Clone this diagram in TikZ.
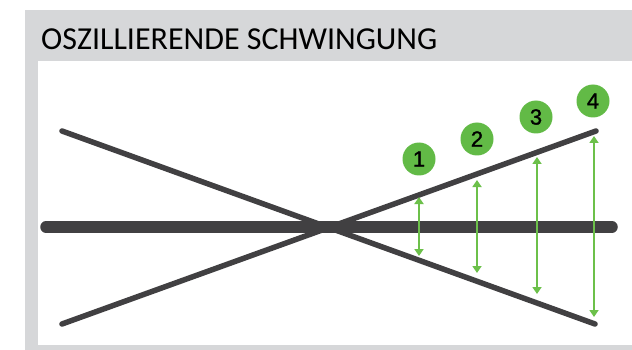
\documentclass[tikz,border=0pt]{standalone}
\usepackage{fontspec}
\setmainfont{Carlito}
\newfontface\numfont[FakeBold=1.2]{Liberation Sans}
\usetikzlibrary{arrows.meta}
\definecolor{framegray}{HTML}{D6D7D9}
\definecolor{linegray}{HTML}{414042}
\definecolor{arrowgreen}{HTML}{6CC04A}
\definecolor{dotgreen}{HTML}{62BA46}
\tikzset{
  thinline/.style={draw=linegray, line width=5.5pt, line cap=round},
  thickline/.style={draw=linegray, line width=11.5pt, line cap=round},
  amp/.style={draw=arrowgreen, line width=2.4pt, {Triangle[width=9pt,length=7pt]}-{Triangle[width=9pt,length=7pt]}},
  numdot/.style={circle, fill=dotgreen, minimum size=33pt, inner sep=0pt, font=\numfont\fontsize{22}{22}\selectfont, text=black},
  title/.style={anchor=base west, inner sep=0pt, font=\fontsize{32}{32}\selectfont}
}
\begin{document}
\begin{tikzpicture}[x=1pt,y=-1pt]
\useasboundingbox (0,0) rectangle (632,350);
\fill[framegray] (25,10) rectangle (632,350);
\fill[white] (37.5,61) rectangle (632,345);
\node[title] (t) at (41,50) {OSZILLIERENDE SCHWINGUNG};
% lines
\coordinate (ul) at (62,131);
\coordinate (lr) at (595,324);
\coordinate (ll) at (62,324);
\coordinate (ur) at (596,131);
\coordinate (hl) at (46,227);
\coordinate (hr) at (612,227);
\draw[thickline] (hl) -- (hr);
\draw[thinline] (ul) -- (lr);
\draw[thinline] (ll) -- (ur);
% arrows
\coordinate (a1t) at (419,197); \coordinate (a1b) at (419,256);
\coordinate (a2t) at (477,180); \coordinate (a2b) at (477,273);
\coordinate (a3t) at (537,157); \coordinate (a3b) at (537,294);
\coordinate (a4t) at (594,136); \coordinate (a4b) at (594,317);
\draw[amp] (a1t) -- (a1b);
\draw[amp] (a2t) -- (a2b);
\draw[amp] (a3t) -- (a3b);
\draw[amp] (a4t) -- (a4b);
% numbers
\node[numdot] (n1) at (419,159) {1};
\node[numdot] (n2) at (477,139) {2};
\node[numdot] (n3) at (536,117) {3};
\node[numdot] (n4) at (593,101) {4};
\end{tikzpicture}
\end{document}
